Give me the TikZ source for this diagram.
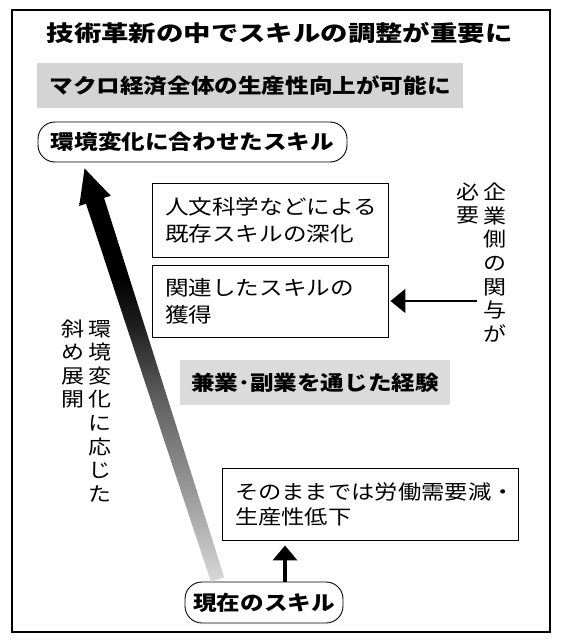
\documentclass[tikz,border=0pt]{standalone}
\usepackage{fontspec}
\usepackage{graphicx}
\newfontfamily\jp{Noto Sans CJK JP}
\usetikzlibrary{arrows.meta,calc}
\newcommand\sq[1]{\scalebox{1}[0.86]{#1}}
\newcommand\sqt[1]{\scalebox{1}[0.8]{#1}}
\pgfdeclareverticalshading{gradarrow}{100bp}{color(0bp)=(black!15); color(25bp)=(black!15); color(35bp)=(black!38); color(47bp)=(black!62); color(56bp)=(black!88); color(62bp)=(black); color(100bp)=(black)}
\begin{document}
\begin{tikzpicture}[x=1pt,y=-1pt,
  every node/.style={inner sep=0pt},
  plainbox/.style={draw, line width=0.9pt, align=left, font=\jp\fontsize{23.6pt}{27pt}\selectfont, inner xsep=13pt},
  pill/.style={draw, line width=0.9pt, rounded corners=17pt, font=\jp\bfseries\fontsize{23.6pt}{27pt}\selectfont},
  band/.style={fill=black!17, font=\jp\bfseries\fontsize{23.6pt}{27pt}\selectfont},
  vtext/.style={align=center, font=\jp\fontsize{23pt}{23.6pt}\selectfont},
  tiparrow/.style={-{Triangle[length=15pt,width=24pt]}},
]
\useasboundingbox (0,0) rectangle (562,642);
\node[draw, line width=1.1pt, minimum width=538pt, minimum height=622pt] (frame) at (281,321) {};

\node[font=\jp\bfseries\fontsize{27.4pt}{30pt}\selectfont] (title) at (279.5,32.5) {\sqt{技術革新の中でスキルの調整が重要に}};
\node[band, minimum width=426pt, minimum height=45pt] (macro) at (250,85.5) {\sq{マクロ経済全体の生産性向上が可能に}};
\node[pill, minimum width=309pt, minimum height=40pt] (goal) at (192.5,142) {\sq{環境変化に合わせたスキル}};
\node[plainbox, text width=210pt, minimum height=74pt] (b1) at (270,220) {\sq{人文科学などによる}\\\sq{既存スキルの深化}};
\node[plainbox, text width=210pt, minimum height=72pt] (b2) at (270,301) {\sq{関連したスキルの}\\\sq{獲得}};
\node[band, fill=black!14, minimum width=270pt, minimum height=45pt] (side) at (315,382.5) {\sq{兼業･副業を通じた経験}};
\node[plainbox, text width=270pt, minimum height=72pt, font=\jp\fontsize{23.3pt}{25pt}\selectfont] (b3) at (370,504) {\sq{そのままでは労働需要減・}\\\sq{生産性低下}};
\node[pill, minimum width=158pt, minimum height=41pt] (now) at (264,602.5) {\sq{現在のスキル}};

\node[vtext] (corp) at (495,262.6) {\sq{企}\\\sq{業}\\\sq{側}\\\sq{の}\\\sq{関}\\\sq{与}\\\sq{が}};
\node[vtext] (need) at (468,203.6) {\sq{必}\\\sq{要}};
\node[vtext] (envtxt) at (100,411) {\sq{環}\\\sq{境}\\\sq{変}\\\sq{化}\\\sq{に}\\\sq{応}\\\sq{じ}\\\sq{た}};
\node[vtext] (diag) at (73,364) {\sq{斜}\\\sq{め}\\\sq{展}\\\sq{開}};

% gradient arrow
\coordinate (gtip) at ($(goal.south west)+(47,6)$);
\coordinate (gend) at ($(now.north west)+(33,-2)$);
\coordinate (ghead) at ($(gtip)!34pt!(gend)$);
\shade[shading=gradarrow] (gtip) -- ($(ghead)!16.5pt!90:(gend)$) -- ($(ghead)!9.5pt!90:(gend)$) -- ($(gend)!7pt!-90:(gtip)$) -- ($(gend)!7pt!90:(gtip)$) -- ($(ghead)!9.5pt!-90:(gend)$) -- ($(ghead)!16.5pt!-90:(gend)$) -- cycle;

% up arrow
\coordinate (upx) at (285,0);
\draw[tiparrow, line width=4pt, shorten >=5pt] (now.north -| upx) -- (b3.south -| upx);

% left arrow
\draw[tiparrow, line width=1.8pt, shorten <=6.5pt, shorten >=2pt] (b2.east -| corp.west) -- (b2.east);
\end{tikzpicture}
\end{document}
